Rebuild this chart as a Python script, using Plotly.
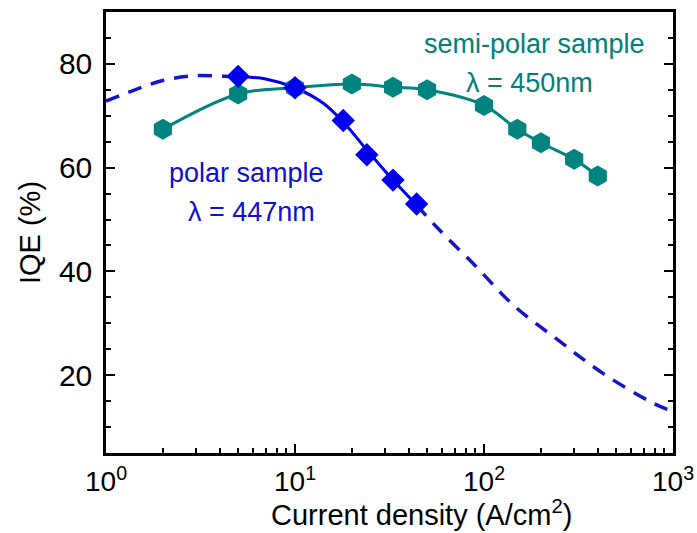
import plotly.graph_objects as go

# ---- data ----
semi_x = [2, 5, 10, 20, 33, 50, 100, 150, 200, 300, 400]
semi_y = [67.4, 74.2, 75.4, 76.1, 75.5, 75.0, 72.0, 67.4, 64.8, 61.6, 58.4]

polar_x = [5, 10, 18, 24, 33, 44]
polar_y = [77.6, 75.4, 69.1, 62.5, 57.6, 53.0]

# fitted curve for the polar sample
fit_x = [1, 1.4, 2, 2.9, 4.2, 5, 7, 10, 14, 18, 24, 33, 44, 56, 91, 143, 252, 428, 787, 1000]
fit_y = [72.8, 74.9, 76.8, 77.7, 77.6, 77.5, 77.1, 75.4, 72.5, 68.8, 63.4, 57.6, 52.8, 48.6,
         40.9, 33.5, 26.5, 20.3, 14.6, 13.0]

x_tickvals = [1, 10, 100, 1000]
x_ticktext = ["10<sup>0</sup>", "10<sup>1</sup>", "10<sup>2</sup>", "10<sup>3</sup>"]
y_tickvals = [20, 40, 60, 80]

TEAL = "#008480"
BLUE = "#0000EE"
DASH_BLUE = "#1414C8"
FONT = "Liberation Sans, Arial, sans-serif"

fig = go.Figure()

# dashed extrapolation segments (outside the measured range)
lo = [(x, y) for x, y in zip(fit_x, fit_y) if x <= polar_x[0]]
hi = [(x, y) for x, y in zip(fit_x, fit_y) if x >= polar_x[-1]]
mid = [(x, y) for x, y in zip(fit_x, fit_y) if polar_x[0] <= x <= polar_x[-1]]
for seg in (lo, hi):
    fig.add_trace(go.Scatter(
        x=[p[0] for p in seg], y=[p[1] for p in seg], mode="lines",
        line=dict(color=DASH_BLUE, width=3.5, dash="14px,10px", shape="spline"),
        hoverinfo="skip", showlegend=False))
# solid fit in the measured range
fig.add_trace(go.Scatter(
    x=[p[0] for p in mid], y=[p[1] for p in mid], mode="lines",
    line=dict(color=BLUE, width=3, shape="spline"), showlegend=False))

# semi-polar sample
fig.add_trace(go.Scatter(
    x=semi_x, y=semi_y, mode="lines+markers",
    line=dict(color=TEAL, width=3, shape="spline"),
    marker=dict(symbol="hexagon", size=21, color=TEAL, line=dict(width=0)),
    showlegend=False))

# polar sample markers
fig.add_trace(go.Scatter(
    x=polar_x, y=polar_y, mode="markers",
    marker=dict(symbol="diamond", size=18, color=BLUE, line=dict(width=0)),
    showlegend=False))

minor_x = [m * 10 ** e for e in range(0, 3) for m in range(2, 10)]

fig.update_xaxes(
    type="log", range=[0, 3], automargin=False,
    tickmode="array", tickvals=x_tickvals, ticktext=x_ticktext,
    ticks="inside", ticklen=9, tickwidth=2, tickcolor="black",
    minor=dict(tickmode="array", tickvals=minor_x, ticks="inside", ticklen=5,
               tickwidth=2, tickcolor="black", showgrid=False),
    showline=True, linecolor="black", linewidth=2.5, mirror=True,
    showgrid=False, zeroline=False,
    tickfont=dict(family=FONT, size=28, color="black"),
    ticklabelstandoff=2,
)
fig.update_yaxes(
    range=[5, 90], automargin=False,
    tickmode="array", tickvals=y_tickvals,
    ticks="inside", ticklen=9, tickwidth=2, tickcolor="black",
    minor=dict(dtick=5, tick0=0, ticks="inside", ticklen=5, tickwidth=2,
               tickcolor="black", showgrid=False),
    showline=True, linecolor="black", linewidth=2.5, mirror="ticks",
    showgrid=False, zeroline=False,
    tickfont=dict(family=FONT, size=30, color="black"),
    ticklabelstandoff=5,
    title=dict(text="IQE (%)", font=dict(family=FONT, size=29, color="black"), standoff=10),
)

# x-axis title (offset to the right as in the reference)
fig.add_annotation(xref="paper", yref="paper", x=0.557, y=-0.137,
                   xanchor="center", yanchor="middle", showarrow=False,
                   text="Current density (A/cm<sup>2</sup>)",
                   font=dict(family=FONT, size=29, color="black"))

ann_font_blue = dict(family=FONT, size=27, color="#1010D0")
ann_font_teal = dict(family=FONT, size=27, color="#00807A")
fig.add_annotation(x=0.746, y=58.9, text="polar sample", showarrow=False, font=ann_font_blue)
fig.add_annotation(x=0.772, y=51.4, text="λ = 447nm", showarrow=False, font=ann_font_blue)
fig.add_annotation(x=2.265, y=83.9, text="semi-polar sample", showarrow=False, font=ann_font_teal)
fig.add_annotation(x=2.243, y=76.4, text="λ = 450nm", showarrow=False, font=ann_font_teal)

fig.update_layout(
    width=697, height=533,
    margin=dict(l=106, r=24, t=12, b=80),
    paper_bgcolor="white", plot_bgcolor="white",
    font=dict(family=FONT),
)

fig.write_html("out.html")
